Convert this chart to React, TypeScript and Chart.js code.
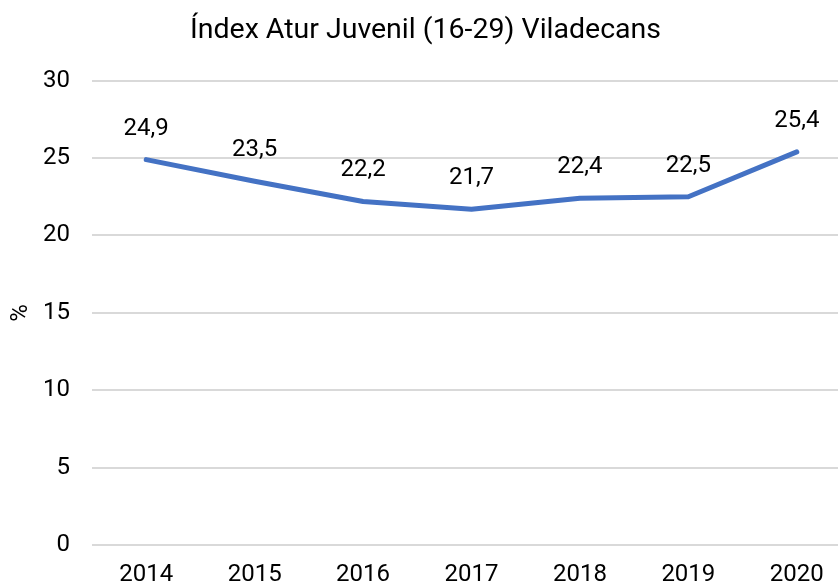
import React, { useEffect, useRef } from "react";
import { Chart, registerables } from "chart.js";

Chart.register(...registerables);

const years: string[] = ["2014", "2015", "2016", "2017", "2018", "2019", "2020"];
const rates: number[] = [24.9, 23.5, 22.2, 21.7, 22.4, 22.5, 25.4];
const titleText = "Índex Atur Juvenil (16-29) Viladecans";
const yAxisLabel = "%";

const FONT = "Roboto, 'Noto Sans', sans-serif";

const valueLabels = {
  id: "valueLabels",
  afterDatasetsDraw(chart: any) {
    const ctx = chart.ctx;
    const meta = chart.getDatasetMeta(0);
    const data = chart.data.datasets[0].data as number[];
    ctx.save();
    ctx.font = `24px ${FONT}`;
    ctx.fillStyle = "#000";
    ctx.textAlign = "center";
    ctx.textBaseline = "middle";
    meta.data.forEach((pt: any, i: number) => {
      ctx.fillText(data[i].toFixed(1).replace(".", ","), pt.x, pt.y - 31);
    });
    ctx.restore();
  },
};

export default function App() {
  const ref = useRef<HTMLCanvasElement | null>(null);
  useEffect(() => {
    if (!ref.current) return;
    const chart = new Chart(ref.current, {
      type: "line",
      data: {
        labels: years,
        datasets: [
          {
            data: rates,
            borderColor: "#4472C4",
            backgroundColor: "#4472C4",
            borderWidth: 5,
            pointRadius: 0,
            tension: 0,
            borderCapStyle: "round",
            borderJoinStyle: "round",
          },
        ],
      },
      options: {
        animation: false,
        responsive: true,
        maintainAspectRatio: false,
        layout: { padding: { left: 0, right: 3, top: 0, bottom: 0 } },
        plugins: {
          legend: { display: false },
          tooltip: { enabled: false },
          title: {
            display: true,
            text: titleText,
            color: "#000",
            font: { family: FONT, size: 28.5, weight: "normal" },
            padding: { top: 14, bottom: 32.5 },
          },
        },
        scales: {
          x: {
            type: "category",
            offset: true,
            grid: { display: false, drawTicks: false },
            border: { display: false },
            ticks: {
              color: "#000",
              font: { family: FONT, size: 24 },
              padding: 16,
              maxRotation: 0,
            },
            afterFit: (s: any) => {
              s.height = 65;
            },
          },
          y: {
            min: 0,
            max: 30,
            ticks: {
              stepSize: 5,
              color: "#000",
              font: { family: FONT, size: 24 },
              padding: 22,
            },
            grid: { color: "#d9d9d9", lineWidth: 2, drawTicks: false },
            border: { display: false },
            title: {
              display: true,
              text: yAxisLabel,
              color: "#000",
              font: { family: FONT, size: 24 },
              padding: { top: 7, bottom: 0 },
            },
            afterFit: (s: any) => {
              s.width = 92;
            },
          },
        },
      },
      plugins: [valueLabels],
    });
    return () => chart.destroy();
  }, []);

  return (
    <div
      style={{
        position: "fixed",
        left: 0,
        top: 0,
        width: 838,
        height: 587,
        overflow: "hidden",
        background: "#fff",
      }}
    >
      <div style={{ position: "relative", width: 854, height: 610 }}>
        <canvas ref={ref} />
      </div>
    </div>
  );
}
